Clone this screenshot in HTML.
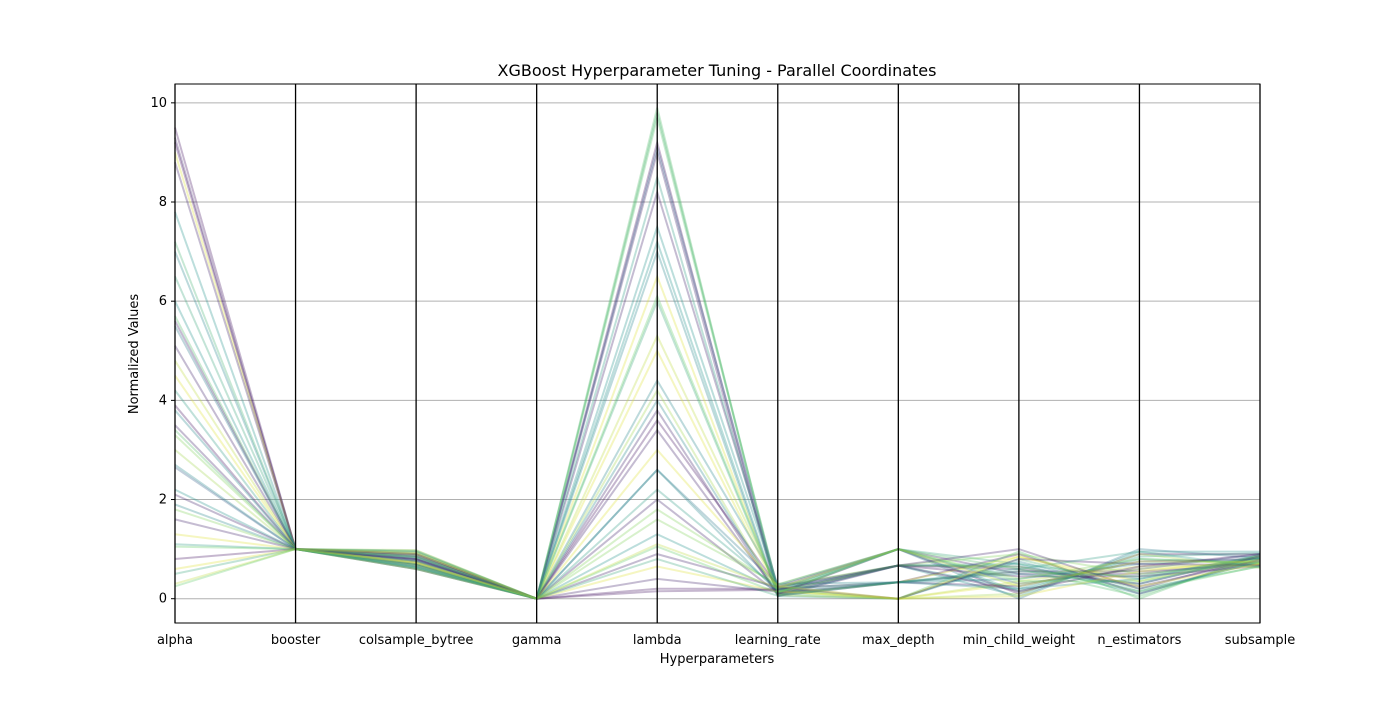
<!DOCTYPE html>
<html><head><meta charset="utf-8"><style>
body{margin:0;background:#fff;font-family:"Liberation Sans","DejaVu Sans",sans-serif;}
svg text{font-family:"DejaVu Sans","Liberation Sans",sans-serif;}
</style></head><body>
<svg id="chart" width="1400" height="700" xmlns="http://www.w3.org/2000/svg">
<rect width="1400" height="700" fill="#fff"/>
<g id="grid"></g><g id="lines"></g><g id="axes"></g>
<text x="717" y="76" text-anchor="middle" font-size="16">XGBoost Hyperparameter Tuning - Parallel Coordinates</text>
<text x="717" y="663" text-anchor="middle" font-size="13">Hyperparameters</text>
<text transform="translate(138,354) rotate(-90)" text-anchor="middle" font-size="13">Normalized Values</text>
</svg>
<script>
const dims=["alpha","booster","colsample_bytree","gamma","lambda","learning_rate","max_depth","min_child_weight","n_estimators","subsample"];
const yTicks=[0,2,4,6,8,10];
const alphaV=[9.5,9.3,9.2,9.0,8.8,7.8,7.2,7.0,6.5,6.0,5.7,5.6,5.5,5.1,4.8,4.5,4.2,3.9,3.8,3.5,3.4,3.3,3.0,2.7,2.65,2.2,2.1,1.9,1.8,1.6,1.3,1.1,1.05,0.8,0.6,0.5,0.3,0.25];
const boosterV=alphaV.map(()=>1);
const colsV=[0.7,0.8,0.75,0.9,0.65,0.85,0.6,0.95,0.7,0.8,0.62,0.9,0.75,0.68,0.98,0.72,0.85,0.6,0.93,0.78,0.66,0.88,0.95,0.7,0.82,0.64,0.9,0.76,0.6,0.86,0.72,0.97,0.68,0.8,0.92,0.63,0.74,0.84];
const gammaV=alphaV.map(()=>0);
const lambdaV=[9.2,9.0,0.2,5.0,8.2,7.2,9.8,4.4,6.0,7.5,9.9,3.8,2.6,0.4,5.3,6.5,8.5,3.6,7.0,2.0,9.7,1.8,4.2,2.6,9.1,1.3,0.9,4.0,1.6,3.4,0.65,2.2,1.05,0.15,3.0,0.8,1.1,6.1];
const lrV=[0.1,0.05,0.2,0.15,0.25,0.08,0.18,0.3,0.12,0.22,0.1,0.06,0.28,0.14,0.2,0.09,0.16,0.24,0.05,0.11,0.19,0.26,0.07,0.13,0.21,0.17,0.23,0.08,0.29,0.1,0.15,0.2,0.12,0.18,0.25,0.06,0.22,0.14];
const mdV=[1,0.67,0.33,0,1,0.67,0,0.33,1,0.67,0,0.33,1,0.67,0,0.33,1,0.67,0,0.33,1,0.67,0,0.33,1,0.67,0,0.33,1,0.67,0,0.33,1,0.67,0,0.33,1,0.67];
const mcwV=[0.1,0.6,0.9,0.3,0.5,0.05,0.8,0.4,0.7,0.2,0.95,0.55,0.0,0.65,0.35,0.85,0.15,0.45,0.75,0.25,0.6,0.9,0.1,0.5,0.3,0.7,0.8,0.2,0.4,1.0,0.05,0.6,0.35,0.15,0.85,0.55,0.25,0.65];
const neV=[0.9,0.3,0.1,0.6,0.5,0.95,0.2,0.7,0.4,0.8,0.0,0.55,1.0,0.25,0.65,0.35,0.85,0.45,0.15,0.75,0.05,0.5,0.9,0.3,0.6,0.1,0.7,0.4,0.8,0.2,0.55,0.95,0.35,0.65,0.25,0.45,0.75,0.15];
const ssV=[0.9,0.85,0.8,0.7,0.75,0.95,0.65,0.8,0.88,0.72,0.9,0.68,0.82,0.78,0.7,0.86,0.92,0.66,0.74,0.8,0.84,0.7,0.62,0.88,0.9,0.76,0.68,0.82,0.72,0.86,0.78,0.64,0.8,0.9,0.7,0.84,0.74,0.66];
const colorV=[0.05,0.1,0.05,0.95,0.1,0.5,0.65,0.45,0.6,0.5,0.7,0.1,0.4,0.1,0.9,0.95,0.55,0.05,0.45,0.1,0.7,0.8,0.85,0.45,0.3,0.5,0.1,0.45,0.8,0.1,0.95,0.55,0.75,0.05,0.95,0.6,0.9,0.75];
const cols=[alphaV,boosterV,colsV,gammaV,lambdaV,lrV,mdV,mcwV,neV,ssV];
const L=175,R=1260,T=84,B=623,ymin=-0.49,ymax=10.38;
const xs=i=>L+i*(R-L)/(dims.length-1);
const ys=v=>B-(v-ymin)/(ymax-ymin)*(B-T);
const vir=[[68,1,84],[59,82,139],[33,145,140],[94,201,98],[253,231,37]];
function color(t){const p=t*4,i=Math.min(3,Math.floor(p)),f=p-i,a=vir[i],b=vir[i+1];return `rgb(${a.map((c,k)=>Math.round(c+(b[k]-c)*f)).join(",")})`;}
const NS="http://www.w3.org/2000/svg";
function mk(tag,at,parent){const e=document.createElementNS(NS,tag);for(const k in at)e.setAttribute(k,at[k]);parent.appendChild(e);return e;}
const grid=document.getElementById('grid'),lines=document.getElementById('lines'),axes=document.getElementById('axes');
yTicks.forEach(t=>{
 const g=mk('line',{x1:L,x2:R,y1:ys(t),y2:ys(t),stroke:'#b0b0b0','stroke-width':1},grid);
 
 
 const tk=mk('line',{x1:L-4,x2:L,y1:ys(t),y2:ys(t),stroke:'#000'},axes);
 
 
 const tx=mk('text',{x:L-8,y:ys(t)+4,'text-anchor':'end','font-size':13},axes);tx.textContent=t;
 
 
});
for(let r=0;r<alphaV.length;r++){
 const pts=cols.map((c,i)=>xs(i).toFixed(1)+","+ys(c[r]).toFixed(1)).join(" ");
 const pl=mk('polyline',{points:pts,fill:'none',stroke:color(colorV[r]),'stroke-width':2,'stroke-opacity':0.3},lines);
 
 
}
dims.forEach((d,i)=>{
 const a=mk('line',{x1:xs(i),x2:xs(i),y1:T,y2:B,stroke:'#000','stroke-width':1.3},axes);
 
 
 const tx=mk('text',{x:xs(i),y:644,'text-anchor':'middle','font-size':13},axes);tx.textContent=d;
 
 
});
const fr=mk('rect',{x:L,y:T,width:R-L,height:B-T,fill:'none',stroke:'#000','stroke-width':1},axes);


</script>
</body></html>
